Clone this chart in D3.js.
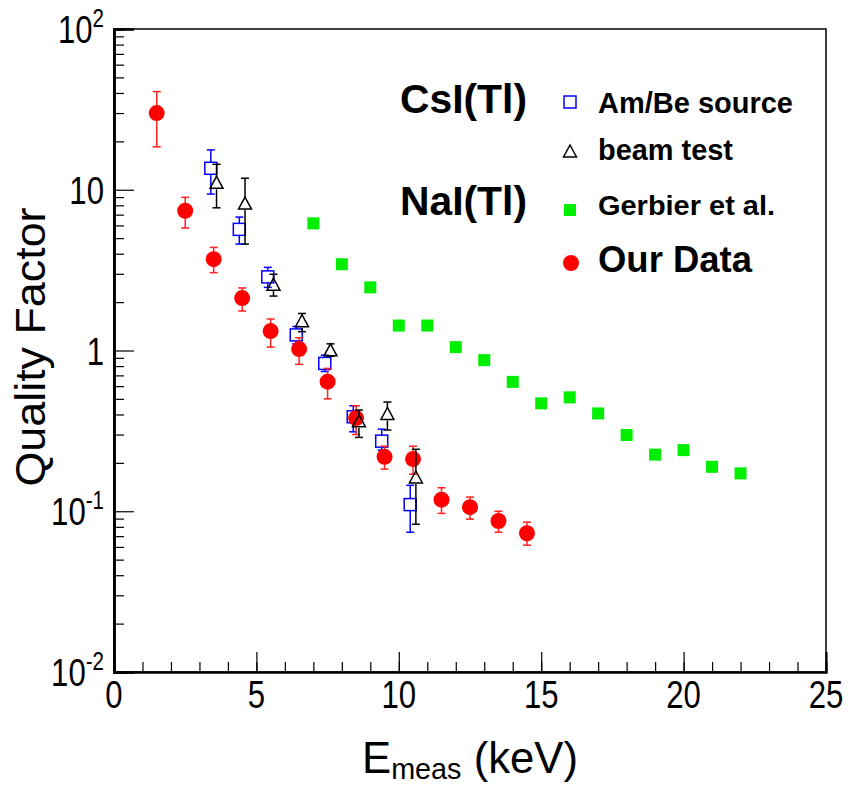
<!DOCTYPE html>
<html>
<head>
<meta charset="utf-8">
<script src="https://cdn.jsdelivr.net/npm/d3@7"></script>
<style>
  body { margin: 0; background: #fff; }
  svg { display: block; }
  text { font-family: "Liberation Sans", Arial, sans-serif; }
</style>
</head>
<body>
<div id="chart"></div>
<script>
// Our Data (NaI)
const ourE  = [1.5, 2.5, 3.5, 4.5, 5.5, 6.5, 7.5, 8.5, 9.5, 10.5, 11.5, 12.5, 13.5, 14.5];
const ourQF = [30, 7.4, 3.7, 2.12, 1.32, 1.02, 0.64, 0.38, 0.218, 0.211, 0.118, 0.106, 0.087, 0.073];
const ourHi = [40.8, 8.97, 4.38, 2.45, 1.57, 1.2, 0.774, 0.453, 0.254, 0.254, 0.140, 0.1225, 0.1, 0.0855];
const ourLo = [18.5, 5.78, 3.05, 1.76, 1.05, 0.82, 0.50, 0.30, 0.183, 0.170, 0.097, 0.0893, 0.074, 0.0615];

// CsI Am/Be source
const amE  = [3.4, 4.4, 5.4, 6.4, 7.4, 8.4, 9.4, 10.4];
const amQF = [13.6, 5.67, 2.87, 1.25, 0.831, 0.387, 0.273, 0.110];
const amHi = [17.7, 6.76, 3.29, 1.41, 0.935, 0.453, 0.324, 0.145];
const amLo = [9.4, 4.59, 2.47, 1.1, 0.74, 0.312, 0.24, 0.074];

// CsI beam test
const beamE  = [3.6, 4.6, 5.6, 6.6, 7.6, 8.6, 9.6, 10.6];
const beamQF = [10.96, 8.15, 2.55, 1.51, 0.995, 0.36, 0.40, 0.161];
const beamHi = [14.4, 11.8, 2.98, 1.70, 1.10, 0.426, 0.478, 0.243];
const beamLo = [7.72, 4.59, 2.18, 1.31, 0.92, 0.288, 0.32, 0.083];

// NaI Gerbier et al.
const gerbE  = [7, 8, 9, 10, 11, 12, 13, 14, 15, 16, 17, 18, 19, 20, 21, 22];
const gerbQF = [6.18, 3.44, 2.47, 1.43, 1.43, 1.05, 0.871, 0.638, 0.469, 0.511, 0.406, 0.298, 0.225, 0.240, 0.189, 0.172];

const xMajor = [0, 5, 10, 15, 20, 25];
const yMajor = [0.01, 0.1, 1, 10, 100];
const yLabels = [["10", "-2"], ["10", "-1"], ["1", ""], ["10", ""], ["10", "2"]];

const width = 850, height = 787;
const mLeft = 114, mRight = 826, mTop = 29, mBottom = 672;
const squeeze = 0.82; // labels in the original are drawn in a condensed face

const svg = d3.select("#chart").append("svg")
  .attr("width", width)
  .attr("height", height);

const x = d3.scaleLinear().domain([0, 25]).range([mLeft, mRight]);
const y = d3.scaleLog().domain([0.01, 100]).range([mBottom, mTop]);

// frame
svg.append("rect")
  .attr("x", mLeft).attr("y", mTop)
  .attr("width", mRight - mLeft).attr("height", mBottom - mTop)
  .attr("fill", "none").attr("stroke", "#000").attr("stroke-width", 1.5);

// x axis: minor + major ticks pointing inward
const xMinor = d3.range(0, 26, 1);
const xAxisMinor = d3.axisBottom(x).tickValues(xMinor).tickSize(-10).tickFormat("");
const xAxisMajor = d3.axisBottom(x).tickValues(xMajor).tickSize(-20).tickFormat("");
[xAxisMinor, xAxisMajor].forEach(ax => {
  const g = svg.append("g").attr("transform", `translate(0,${mBottom})`).call(ax);
  g.select(".domain").attr("stroke-width", 2);
  g.selectAll(".tick line").attr("stroke-width", 1.2);
});

svg.append("g").selectAll("text")
  .data(xMajor)
  .enter().append("text")
  .attr("transform", d => `translate(${x(d)},708) scale(${squeeze},1)`)
  .attr("text-anchor", "middle")
  .attr("font-size", 38)
  .text(d => d);

// y axis: minor + major ticks
const yMinor = [];
[0.01, 0.1, 1, 10].forEach(dec => {
  for (let k = 2; k <= 9; k++) yMinor.push(dec * k);
});
const yAxisMinor = d3.axisLeft(y).tickValues(yMinor).tickSize(-10).tickFormat("");
const yAxisMajor = d3.axisLeft(y).tickValues(yMajor).tickSize(-20).tickFormat("");
[yAxisMinor, yAxisMajor].forEach(ax => {
  const g = svg.append("g").attr("transform", `translate(${mLeft},0)`).call(ax);
  g.select(".domain").attr("stroke-width", 2.5);
  g.selectAll(".tick line").attr("stroke-width", 1.2);
});

const yl = svg.append("g").selectAll("text")
  .data(yMajor)
  .enter().append("text")
  .attr("transform", d => `translate(104,${y(d) + 14}) scale(${squeeze},1)`)
  .attr("text-anchor", "end")
  .attr("font-size", 38);
yl.each(function(d, i) {
  const t = d3.select(this);
  t.append("tspan").text(yLabels[i][0]);
  if (yLabels[i][1]) {
    t.append("tspan").attr("font-size", 25).attr("dy", -16).text(yLabels[i][1]);
  }
});

// axis titles
svg.append("text")
  .attr("transform", "translate(45,347) rotate(-90)")
  .attr("text-anchor", "middle")
  .attr("font-size", 42)
  .attr("textLength", 279)
  .attr("lengthAdjust", "spacingAndGlyphs")
  .text("Quality Factor");

const xt = svg.append("text")
  .attr("x", 362)
  .attr("y", 773)
  .attr("font-size", 44)
  .attr("textLength", 216)
  .attr("lengthAdjust", "spacingAndGlyphs");
xt.append("tspan").text("E");
xt.append("tspan").attr("font-size", 29).attr("dy", 6).text("meas");
xt.append("tspan").attr("dy", -6).text(" (keV)");

// error bars helper (gap around open markers)
function errorBars(g, xs, vs, hi, lo, color, gap) {
  const cap = 4;
  xs.forEach((xv, i) => {
    const cx = x(xv), cy = y(vs[i]);
    const yh = y(hi[i]), ylo = y(lo[i]);
    if (cy - gap > yh) {
      g.append("line").attr("x1", cx).attr("x2", cx).attr("y1", cy - gap).attr("y2", yh)
        .attr("stroke", color).attr("stroke-width", 1.5);
    }
    if (ylo > cy + gap) {
      g.append("line").attr("x1", cx).attr("x2", cx).attr("y1", cy + gap).attr("y2", ylo)
        .attr("stroke", color).attr("stroke-width", 1.5);
    }
    g.append("line").attr("x1", cx - cap).attr("x2", cx + cap).attr("y1", yh).attr("y2", yh)
      .attr("stroke", color).attr("stroke-width", 1.5);
    g.append("line").attr("x1", cx - cap).attr("x2", cx + cap).attr("y1", ylo).attr("y2", ylo)
      .attr("stroke", color).attr("stroke-width", 1.5);
  });
}

const plot = svg.append("g");

// Gerbier et al. (green filled squares)
plot.selectAll(".gerb")
  .data(gerbE.map((e, i) => ({ e, q: gerbQF[i] })))
  .enter().append("rect")
  .attr("class", "gerb")
  .attr("x", d => x(d.e) - 6)
  .attr("y", d => y(d.q) - 6)
  .attr("width", 12).attr("height", 12)
  .attr("fill", "#00ee00");

// Am/Be source (blue open squares)
const amG = plot.append("g");
errorBars(amG, amE, amQF, amHi, amLo, "#0000ff", 6);
amG.selectAll("rect")
  .data(amE.map((e, i) => ({ e, q: amQF[i] })))
  .enter().append("rect")
  .attr("x", d => x(d.e) - 6)
  .attr("y", d => y(d.q) - 6)
  .attr("width", 12).attr("height", 12)
  .attr("fill", "none").attr("stroke", "#0000ff").attr("stroke-width", 1.5);

// Our data (red filled circles)
const ourG = plot.append("g");
errorBars(ourG, ourE, ourQF, ourHi, ourLo, "#ff2020", 0);
ourG.selectAll("circle")
  .data(ourE.map((e, i) => ({ e, q: ourQF[i] })))
  .enter().append("circle")
  .attr("cx", d => x(d.e))
  .attr("cy", d => y(d.q))
  .attr("r", 8)
  .attr("fill", "#ff0000");

// beam test (black open triangles)
const tri = "M0,-7L6.5,5L-6.5,5Z";
const beamG = plot.append("g");
errorBars(beamG, beamE, beamQF, beamHi, beamLo, "#000", 6);
beamG.selectAll("path")
  .data(beamE.map((e, i) => ({ e, q: beamQF[i] })))
  .enter().append("path")
  .attr("d", tri)
  .attr("transform", d => `translate(${x(d.e)},${y(d.q)})`)
  .attr("fill", "none").attr("stroke", "#000").attr("stroke-width", 1.5);

// legend
const leg = svg.append("g");
leg.append("text").attr("x", 400).attr("y", 113).attr("font-size", 40).attr("font-weight", "bold")
  .attr("textLength", 127).attr("lengthAdjust", "spacingAndGlyphs").text("CsI(Tl)");
leg.append("text").attr("x", 400).attr("y", 215).attr("font-size", 40).attr("font-weight", "bold")
  .attr("textLength", 127).attr("lengthAdjust", "spacingAndGlyphs").text("NaI(Tl)");

leg.append("rect").attr("x", 564).attr("y", 96).attr("width", 12).attr("height", 12)
  .attr("fill", "none").attr("stroke", "#0000ff").attr("stroke-width", 1.5);
leg.append("path").attr("d", tri).attr("transform", "translate(570,152)")
  .attr("fill", "none").attr("stroke", "#000").attr("stroke-width", 1.5);
leg.append("rect").attr("x", 564).attr("y", 204).attr("width", 12).attr("height", 12)
  .attr("fill", "#00ee00");
leg.append("circle").attr("cx", 571).attr("cy", 263).attr("r", 8).attr("fill", "#ff0000");

const legItems = [
  { t: "Am/Be source", y: 113, size: 29, len: 195 },
  { t: "beam test", y: 160, size: 29, len: 135 },
  { t: "Gerbier et al.", y: 215, size: 28, len: 177 },
  { t: "Our Data", y: 272, size: 36, len: 154 }
];
leg.selectAll(".li")
  .data(legItems)
  .enter().append("text")
  .attr("class", "li")
  .attr("x", 598)
  .attr("y", d => d.y)
  .attr("font-size", d => d.size)
  .attr("font-weight", "bold")
  .attr("textLength", d => d.len)
  .attr("lengthAdjust", "spacingAndGlyphs")
  .text(d => d.t);
</script>
</body>
</html>
